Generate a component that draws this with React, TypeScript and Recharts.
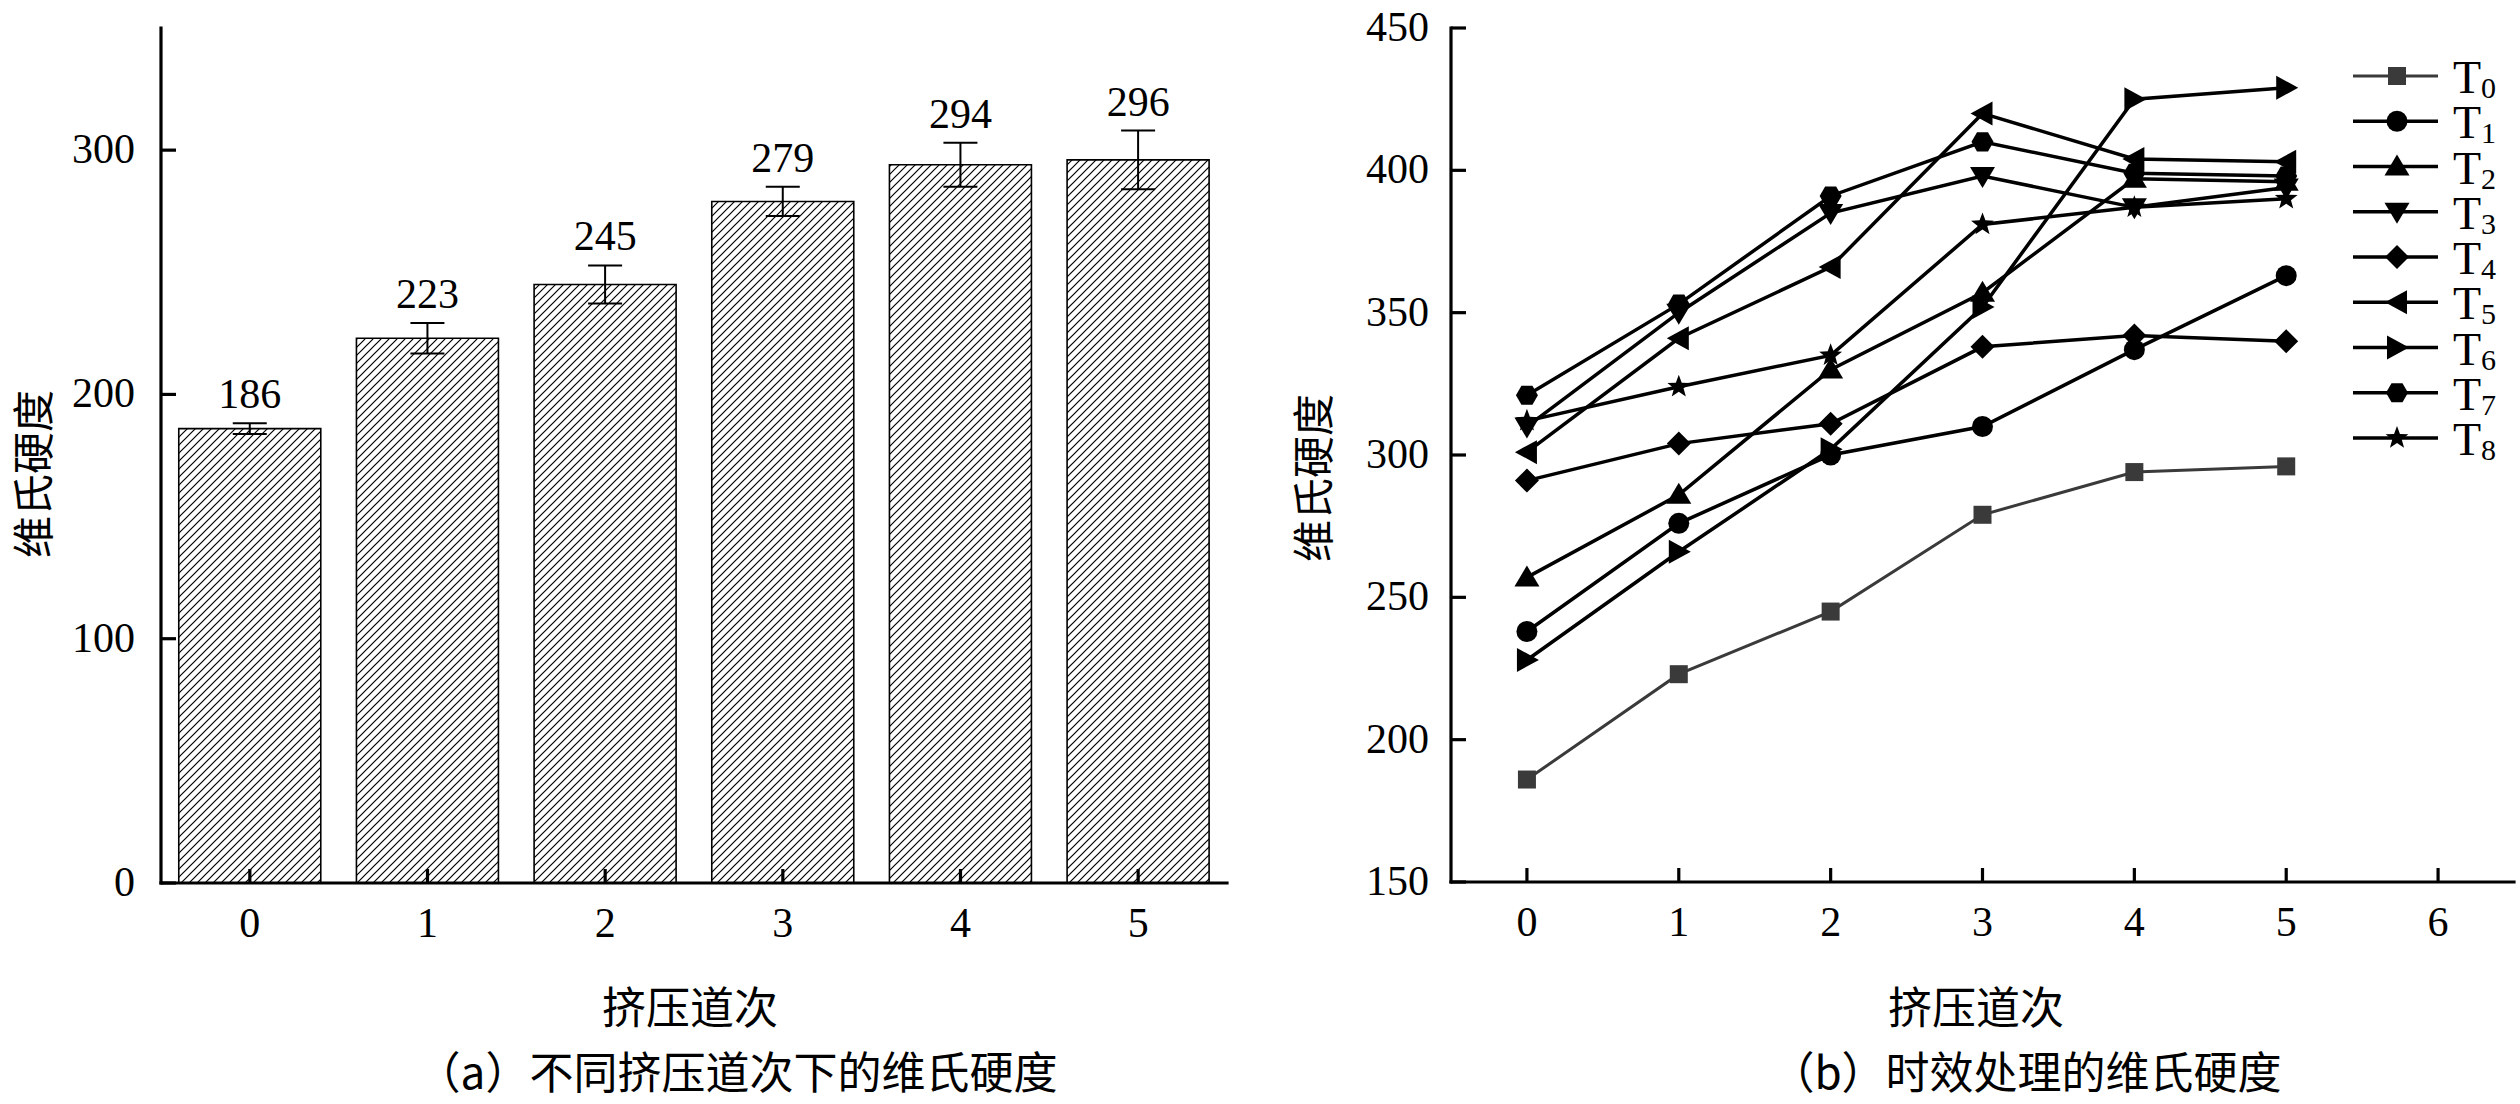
import React from 'react';
import {
  ComposedChart,
  LineChart,
  Bar,
  Line,
  XAxis,
  YAxis,
  ErrorBar,
  LabelList,
  Legend,
} from 'recharts';

// ---------- data: panel (a) ----------
const passes = ['0', '1', '2', '3', '4', '5'];
const hardness = [186, 223, 245, 279, 294, 296];
const hardnessErr = [2.2, 6.2, 7.8, 6, 9, 12];
const barYTicks = [0, 100, 200, 300];

// ---------- data: panel (b) ----------
const passX = [0, 1, 2, 3, 4, 5];
const T0 = [186, 223, 245, 279, 294, 296];
const T1 = [238, 276, 300, 310, 337, 363];
const T2 = [257, 286, 330, 357, 397, 396];
const T3 = [310, 350, 385, 398, 387, 394];
const T4 = [291, 304, 311, 338, 342, 340];
const T5 = [301, 341, 366, 420, 404, 403];
const T6 = [228, 266, 302, 352, 425, 429];
const T7 = [321, 353, 391, 410, 399, 398];
const T8 = [312, 324, 335, 381, 387, 390];
const lineXTicks = [0, 1, 2, 3, 4, 5, 6];
const lineYTicks = [150, 200, 250, 300, 350, 400, 450];

const SERIF = '"Liberation Serif", "Times New Roman", serif';
const CJK = '"Noto Sans CJK SC", "Noto Sans CJK JP", sans-serif';

const barData = passes.map((c, i) => ({
  cat: c,
  v: hardness[i],
  err: hardnessErr[i],
  top: hardness[i] + hardnessErr[i],
}));

type Series = { key: string; sub: string; values: number[]; marker: string; color: string; width: number };
const lineSeries: Series[] = [
  { key: 'T0', sub: '0', values: T0, marker: 'square', color: '#3a3a3a', width: 3 },
  { key: 'T1', sub: '1', values: T1, marker: 'circle', color: '#000', width: 3.5 },
  { key: 'T2', sub: '2', values: T2, marker: 'up', color: '#000', width: 3.5 },
  { key: 'T3', sub: '3', values: T3, marker: 'down', color: '#000', width: 3.5 },
  { key: 'T4', sub: '4', values: T4, marker: 'diamond', color: '#000', width: 3.5 },
  { key: 'T5', sub: '5', values: T5, marker: 'left', color: '#000', width: 3.5 },
  { key: 'T6', sub: '6', values: T6, marker: 'right', color: '#000', width: 3.5 },
  { key: 'T7', sub: '7', values: T7, marker: 'hexagon', color: '#000', width: 3.5 },
  { key: 'T8', sub: '8', values: T8, marker: 'star', color: '#000', width: 3.5 },
];

const lineData = passX.map((x, i) => {
  const row: any = { x };
  lineSeries.forEach((s) => (row[s.key] = s.values[i]));
  return row;
});

function pts(arr: number[][]) {
  return arr.map((p) => p.join(',')).join(' ');
}

function Marker({ type, cx, cy, fill }: { type: string; cx: number; cy: number; fill: string }) {
  if (cx == null || cy == null || isNaN(cx) || isNaN(cy)) return <g />;
  switch (type) {
    case 'square':
      return <rect x={cx - 9} y={cy - 9} width={18} height={18} fill={fill} />;
    case 'circle':
      return <circle cx={cx} cy={cy} r={10.5} fill={fill} />;
    case 'up':
      return <polygon points={pts([[cx, cy - 12], [cx + 12.5, cy + 9], [cx - 12.5, cy + 9]])} fill={fill} />;
    case 'down':
      return <polygon points={pts([[cx - 12.5, cy - 9], [cx + 12.5, cy - 9], [cx, cy + 12]])} fill={fill} />;
    case 'diamond':
      return <polygon points={pts([[cx, cy - 12], [cx + 12, cy], [cx, cy + 12], [cx - 12, cy]])} fill={fill} />;
    case 'left':
      return <polygon points={pts([[cx - 12, cy], [cx + 10, cy - 12], [cx + 10, cy + 12]])} fill={fill} />;
    case 'right':
      return <polygon points={pts([[cx + 12, cy], [cx - 10, cy - 12], [cx - 10, cy + 12]])} fill={fill} />;
    case 'hexagon': {
      const p: number[][] = [];
      for (let k = 0; k < 6; k++) {
        const a = (Math.PI / 3) * k;
        p.push([cx + 11 * Math.cos(a), cy + 11 * Math.sin(a)]);
      }
      return <polygon points={pts(p)} fill={fill} />;
    }
    case 'star': {
      const p: number[][] = [];
      for (let k = 0; k < 10; k++) {
        const r = k % 2 === 0 ? 12 : 5;
        const a = -Math.PI / 2 + (Math.PI / 5) * k;
        p.push([cx + r * Math.cos(a), cy + r * Math.sin(a)]);
      }
      return <polygon points={pts(p)} fill={fill} />;
    }
    default:
      return <circle cx={cx} cy={cy} r={10} fill={fill} />;
  }
}

function BottomTick(props: any) {
  const { x, y, payload } = props;
  return (
    <g>
      <line x1={x} x2={x} y1={y} y2={y - 14} stroke="#000" strokeWidth={3.2} />
      <text x={x} y={y + 54} textAnchor="middle" fontSize={42} fontFamily={SERIF} fill="#000">
        {payload.value}
      </text>
    </g>
  );
}

function LeftTick(props: any) {
  const { x, y, payload, gap } = props;
  return (
    <g>
      <line x1={x} x2={x + 15} y1={y} y2={y} stroke="#000" strokeWidth={3.2} />
      <text x={x - gap} y={y + 13} textAnchor="end" fontSize={42} fontFamily={SERIF} fill="#000">
        {payload.value}
      </text>
    </g>
  );
}

function LegendBox(props: any) {
  const payload: any[] = props.payload && props.payload.length ? props.payload : lineSeries.map((s) => ({ dataKey: s.key }));
  const rows = payload
    .map((p) => lineSeries.find((s) => s.key === p.dataKey))
    .filter(Boolean) as Series[];
  return (
    <svg width={170} height={430} style={{ overflow: 'visible', display: 'block' }}>
      {rows.map((s, i) => {
        const y = 28 + 45.25 * i;
        return (
          <g key={s.key}>
            <line x1={3} x2={88} y1={y} y2={y} stroke={s.color} strokeWidth={s.width} />
            <Marker type={s.marker} cx={47} cy={y} fill={s.color} />
            <text x={103} y={y + 17} fontSize={46} fontFamily={SERIF} fill="#000">
              T
              <tspan fontSize={30} dy={5}>
                {s.sub}
              </tspan>
            </text>
          </g>
        );
      })}
    </svg>
  );
}

const frameLine = { stroke: '#000', strokeWidth: 3.2, strokeLinecap: 'square' as const };

export default function App() {
  return (
    <div style={{ position: 'absolute', left: 0, top: 0, width: 2520, height: 1104, background: '#fff' }}>
      {/* panel (a) */}
      <div style={{ position: 'absolute', left: 0, top: 0 }}>
        <ComposedChart
          width={1260}
          height={1104}
          data={barData}
          margin={{ top: 28, right: 33, bottom: 161, left: 81 }}
          barCategoryGap="10%"
        >
          <defs>
            <pattern id="hatch" patternUnits="userSpaceOnUse" width={8} height={8}>
              <path d="M-2,2 L2,-2 M0,8 L8,0 M6,10 L10,6" stroke="#000" strokeWidth={1.2} />
            </pattern>
          </defs>
          <XAxis xAxisId="top" dataKey="cat" orientation="top" height={0} tick={false} tickLine={false} axisLine={frameLine} />
          <YAxis yAxisId="r" orientation="right" type="number" domain={[0, 1]} width={0} tick={false} tickLine={false} axisLine={frameLine} />
          <Bar dataKey="v" fill="url(#hatch)" stroke="#000" strokeWidth={1.6} isAnimationActive={false}>
            <ErrorBar dataKey="err" width={17} strokeWidth={2} stroke="#000" direction="y" />
          </Bar>
          <Line dataKey="top" stroke="none" dot={false} activeDot={false} isAnimationActive={false} legendType="none">
            <LabelList dataKey="v" position="top" offset={15} fontSize={42} fontFamily={SERIF} fill="#000" />
          </Line>
          <XAxis
            dataKey="cat"
            type="category"
            height={60}
            interval={0}
            tickSize={0}
            tickMargin={0}
            tickLine={false}
            axisLine={frameLine}
            tick={<BottomTick />}
          />
          <YAxis
            domain={[0, 350]}
            ticks={barYTicks}
            width={80}
            interval={0}
            tickSize={0}
            tickMargin={0}
            tickLine={false}
            axisLine={frameLine}
            tick={<LeftTick gap={26} />}
          />
        </ComposedChart>
      </div>

      {/* panel (b) */}
      <div style={{ position: 'absolute', left: 1260, top: 0 }}>
        <LineChart width={1260} height={1104} data={lineData} margin={{ top: 28, right: 6, bottom: 162, left: 91 }}>
          <XAxis
            dataKey="x"
            type="number"
            domain={[-0.5, 6.5]}
            ticks={lineXTicks}
            height={60}
            interval={0}
            tickSize={0}
            tickMargin={0}
            tickLine={false}
            axisLine={frameLine}
            tick={<BottomTick />}
            allowDataOverflow
          />
          <XAxis
            xAxisId="top"
            dataKey="x"
            type="number"
            domain={[-0.5, 6.5]}
            orientation="top"
            height={0}
            tick={false}
            tickLine={false}
            axisLine={frameLine}
            allowDataOverflow
          />
          <YAxis
            domain={[150, 450]}
            ticks={lineYTicks}
            width={100}
            interval={0}
            tickSize={0}
            tickMargin={0}
            tickLine={false}
            axisLine={frameLine}
            tick={<LeftTick gap={22} />}
            allowDataOverflow
          />
          <YAxis yAxisId="r" orientation="right" type="number" domain={[0, 1]} width={0} tick={false} tickLine={false} axisLine={frameLine} />
          {lineSeries.map((s) => (
            <Line
              key={s.key}
              type="linear"
              dataKey={s.key}
              name={s.key}
              stroke={s.color}
              strokeWidth={s.width}
              isAnimationActive={false}
              activeDot={false}
              dot={(p: any) => <Marker key={`${s.key}-${p.index}`} type={s.marker} cx={p.cx} cy={p.cy} fill={s.color} />}
            />
          ))}
          <Legend
            layout="horizontal"
            verticalAlign="middle"
            align="center"
            wrapperStyle={{ position: 'absolute', left: 1090, top: 48, width: 170, height: 430 }}
            content={(props: any) => <LegendBox payload={props.payload} />}
          />
        </LineChart>
      </div>

      {/* titles and captions */}
      <svg
        width={2520}
        height={1104}
        style={{ position: 'absolute', left: 0, top: 0, pointerEvents: 'none' }}
      >
        <text x={30} y={474} transform="rotate(-90, 30, 474)" textAnchor="middle" dominantBaseline="central" fontSize={42} fontFamily={CJK} fill="#000">
          维氏硬度
        </text>
        <text x={1310} y={478} transform="rotate(-90, 1310, 478)" textAnchor="middle" dominantBaseline="central" fontSize={42} fontFamily={CJK} fill="#000">
          维氏硬度
        </text>
        <text x={690} y={1005} textAnchor="middle" dominantBaseline="central" fontSize={44} fontFamily={CJK} fill="#000">
          挤压道次
        </text>
        <text x={1976} y={1005} textAnchor="middle" dominantBaseline="central" fontSize={44} fontFamily={CJK} fill="#000">
          挤压道次
        </text>
        <text x={737} y={1070} textAnchor="middle" dominantBaseline="central" fontSize={44} fontFamily={CJK} fill="#000">
          （a）不同挤压道次下的维氏硬度
        </text>
        <text x={2026} y={1070} textAnchor="middle" dominantBaseline="central" fontSize={44} fontFamily={CJK} fill="#000">
          （b）时效处理的维氏硬度
        </text>
      </svg>
    </div>
  );
}
